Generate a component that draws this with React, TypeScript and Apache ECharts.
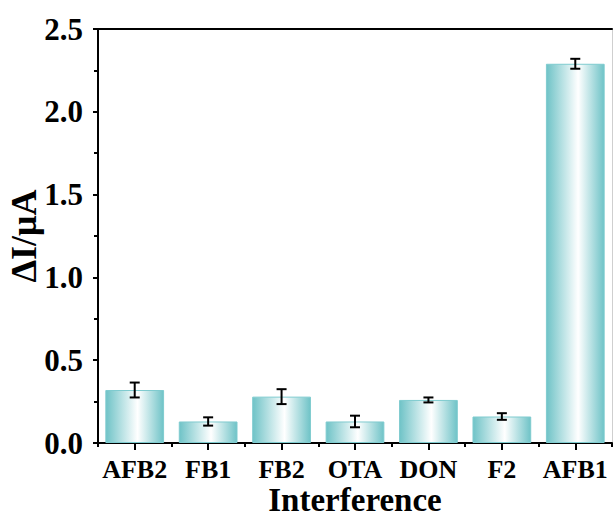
import React, { useEffect, useRef } from "react";
import * as echarts from "echarts";

const categories = ["AFB2", "FB1", "FB2", "OTA", "DON", "F2", "AFB1"];
const values = [0.32, 0.13, 0.28, 0.13, 0.26, 0.16, 2.29];
const errors = [0.045, 0.025, 0.045, 0.035, 0.015, 0.02, 0.03];
const yTicks = [0, 0.5, 1.0, 1.5, 2.0, 2.5];

const FONT = "'Liberation Serif', 'Times New Roman', serif";

export default function App() {
  const ref = useRef<HTMLDivElement>(null);
  useEffect(() => {
    if (!ref.current) return;
    const chart = echarts.init(ref.current, null, { renderer: "svg" });
    const edge = "#6fc3c7";
    const grad = new echarts.graphic.LinearGradient(0, 0, 1, 0, [
      { offset: 0, color: edge },
      { offset: 0.55, color: "#ffffff" },
      { offset: 1, color: edge },
    ]);
    chart.setOption({
      animation: false,
      backgroundColor: "#ffffff",
      grid: { left: 98, right: 2, top: 29, bottom: 75, containLabel: false, outerBoundsMode: "none" },
      xAxis: [
        {
          type: "category",
          data: categories,
          position: "bottom",
          axisLine: { show: true, lineStyle: { color: "#000", width: 2 } },
          axisTick: { show: true, alignWithLabel: true, length: 7, lineStyle: { color: "#000", width: 2 } },
          axisLabel: { color: "#000", fontFamily: FONT, fontWeight: "bold", fontSize: 26, margin: 13, interval: 0, hideOverlap: false },
          name: "Interference",
          nameLocation: "middle",
          nameGap: 42,
          nameMoveOverlap: false,
          nameTextStyle: { color: "#000", fontFamily: FONT, fontWeight: "bold", fontSize: 33, lineHeight: 29 },
        },
        {
          type: "category",
          data: categories,
          position: "bottom",
          axisLine: { show: false },
          axisTick: { show: true, alignWithLabel: false, interval: 0, length: 4, lineStyle: { color: "#000", width: 2 } },
          axisLabel: { show: false },
        },
        {
          type: "category",
          data: categories,
          position: "top",
          axisLine: { show: true, lineStyle: { color: "#000", width: 2 } },
          axisTick: { show: false },
          axisLabel: { show: false },
        },
      ],
      yAxis: [
        {
          type: "value",
          min: yTicks[0],
          max: yTicks[yTicks.length - 1],
          interval: 0.5,
          axisLine: { show: true, lineStyle: { color: "#000", width: 2 } },
          axisTick: { show: true, length: 5, lineStyle: { color: "#000", width: 2 } },
          minorTick: { show: true, splitNumber: 2, length: 4, lineStyle: { color: "#000", width: 2 } },
          splitLine: { show: false },
          axisLabel: {
            color: "#000",
            fontFamily: FONT,
            fontWeight: "bold",
            fontSize: 31,
            margin: 15,
            formatter: (v: number) => v.toFixed(1),
          },
          name: "ΔI/μA",
          nameLocation: "middle",
          nameGap: 56,
          nameMoveOverlap: false,
          nameTextStyle: { color: "#000", fontFamily: FONT, fontWeight: "bold", fontSize: 36 },
        },
        {
          type: "value",
          position: "right",
          min: yTicks[0],
          max: yTicks[yTicks.length - 1],
          interval: 0.5,
          axisLine: { show: true, lineStyle: { color: "#cfcfcf", width: 1 } },
          axisTick: { show: false },
          axisLabel: { show: false },
          splitLine: { show: false },
        },
      ],
      series: [
        {
          type: "bar",
          xAxisIndex: 0,
          yAxisIndex: 0,
          data: values,
          barWidth: "80%",
          itemStyle: { color: grad, borderColor: "#7fcbcf", borderWidth: 1 },
        },
        {
          type: "custom",
          xAxisIndex: 0,
          yAxisIndex: 0,
          data: values.map((v, i) => [i, v, errors[i]]),
          z: 10,
          renderItem: (params: any, api: any) => {
            const x = api.value(0);
            const y = api.value(1);
            const e = api.value(2);
            const top = api.coord([x, y + e]);
            const bot = api.coord([x, y - e]);
            const hw = 5;
            const st = { stroke: "#000", lineWidth: 2 };
            return {
              type: "group",
              children: [
                { type: "line", shape: { x1: top[0], y1: top[1], x2: bot[0], y2: bot[1] }, style: st },
                { type: "line", shape: { x1: top[0] - hw, y1: top[1], x2: top[0] + hw, y2: top[1] }, style: st },
                { type: "line", shape: { x1: bot[0] - hw, y1: bot[1], x2: bot[0] + hw, y2: bot[1] }, style: st },
              ],
            };
          },
        },
      ],
    });
    return () => chart.dispose();
  }, []);
  return <div ref={ref} style={{ width: 614, height: 518, position: "absolute", left: 0, top: 0 }} />;
}
